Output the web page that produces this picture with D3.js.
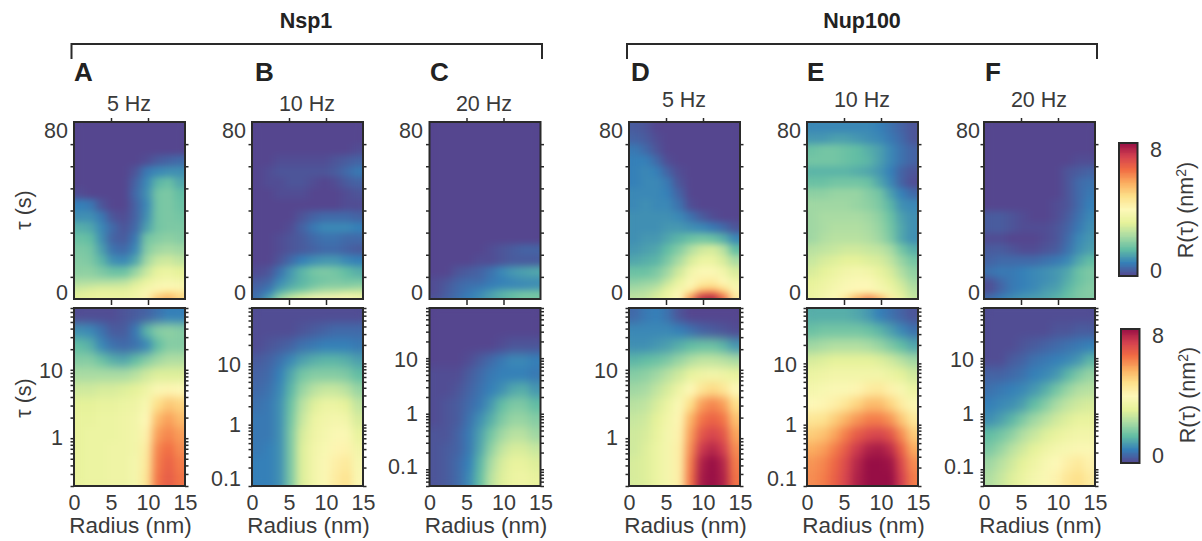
<!DOCTYPE html>
<html>
<head>
<meta charset="utf-8">
<script src="https://cdn.jsdelivr.net/npm/d3@7"></script>
<style>
  html, body { margin: 0; padding: 0; background: #fff; }
  text { font-family: "Liberation Sans", Arial, sans-serif; fill: #3a3a3a; }
</style>
</head>
<body>
<div id="chart"></div>
<script>
// radius bin centres (nm), same for every panel
var radii = [0.75, 2.25, 3.75, 5.25, 6.75, 8.25, 9.75, 11.25, 12.75, 14.25];
// tau bin edges for the linear panels (s)
var tauEdges = [80, 75, 70, 65, 60, 55, 50, 45, 40, 35, 30, 25, 20, 15, 10, 7, 4, 2, 0];
var tauMinor = [1, 2, 3, 4, 5, 6, 7, 8, 9];
var linTicks = [0, 10, 20, 30, 40, 50, 60, 70, 80];
var radiusTicks = [0, 5, 10, 15];
var colorStops = ["#55468f", "#3580b8", "#62bda4", "#a9dba3", "#e6f29a", "#fdf8b8", "#fde08a", "#fbae60", "#f16c43", "#d3404f", "#970e45"];

// R(tau) in nm2, rows go from long tau to short tau
var nsp1Hz5Lin = [
  [0,0,0,0,0,0,0,0,0,0],
  [0,0,0,0,0,0,0,0,0,0],
  [0,0,0,0,0,0,0,0,0,0],
  [0,0,0,0,0,0,0.1,0.3,0.4,0.5],
  [0,0,0,0,0,0.2,0.7,0.9,1.0,1.0],
  [0,0,0,0,0,0.4,0.9,1.5,1.7,1.3],
  [0.1,0,0,0,0,0.5,1.0,1.8,1.9,1.6],
  [0.8,0.7,0.2,0,0,0.4,0.9,1.8,1.9,1.7],
  [1.0,1.0,0.7,0.2,0.1,0.4,1.0,1.8,1.9,1.8],
  [1.4,1.3,0.9,0.5,0.2,0.5,1.2,1.8,1.9,1.9],
  [1.7,1.6,1.0,0.4,0.3,0.7,1.8,2.0,2.1,2.0],
  [1.9,1.8,1.2,0.6,0.5,0.9,2.0,2.3,2.4,2.3],
  [2.0,1.9,1.5,1.0,0.9,1.3,2.3,2.8,2.9,2.7],
  [2.1,2.1,1.9,1.7,1.7,2.2,2.8,3.3,3.4,3.2],
  [2.4,2.4,2.4,2.4,2.5,2.9,3.3,3.6,3.7,3.6],
  [2.8,2.9,3.0,3.0,3.0,3.3,3.6,3.9,4.0,3.9],
  [3.1,3.2,3.3,3.3,3.3,3.5,3.9,4.4,4.8,4.6],
  [3.2,3.3,3.4,3.4,3.4,3.6,4.2,5.3,5.6,5.0]
];
var nsp1Hz10Lin = [
  [0,0,0,0,0,0,0,0,0,0],
  [0,0,0,0,0,0,0,0,0,0],
  [0,0,0,0,0,0,0,0,0,0.1],
  [0,0,0.1,0.1,0.1,0.1,0.1,0.2,0.3,0.4],
  [0,0.1,0.2,0.2,0.2,0.2,0.2,0.3,0.5,0.7],
  [0,0.1,0.1,0.2,0.2,0.1,0,0.1,0.3,0.4],
  [0,0,0.1,0.1,0.1,0,0,0,0.1,0.2],
  [0,0,0,0,0,0,0,0,0.1,0.1],
  [0,0,0,0,0.2,0.4,0.5,0.5,0.5,0.4],
  [0,0,0,0.1,0.4,0.7,0.9,0.9,0.9,0.8],
  [0,0,0.1,0.2,0.3,0.5,0.6,0.6,0.5,0.5],
  [0,0,0.1,0.2,0.3,0.4,0.5,0.5,0.4,0.3],
  [0,0,0.2,0.5,0.8,1.0,1.1,1.1,0.9,0.8],
  [0.1,0.2,0.6,1.1,1.5,1.8,1.9,1.8,1.6,1.4],
  [0.3,0.4,0.9,1.2,1.5,1.7,1.8,1.9,1.8,1.8],
  [0.4,0.6,1.1,1.4,1.6,1.9,2.1,2.1,2.1,2.2],
  [0.5,0.8,1.5,1.9,2.2,2.5,2.7,2.8,3.0,3.0],
  [0.6,1.3,2.3,2.9,3.3,3.8,3.9,4.1,4.0,3.7]
];
var nsp1Hz20Lin = [
  [0,0,0,0,0,0,0,0,0,0],
  [0,0,0,0,0,0,0,0,0,0],
  [0,0,0,0,0,0,0,0,0,0],
  [0,0,0,0,0,0,0,0,0,0],
  [0,0,0,0,0,0,0,0,0,0],
  [0,0,0,0,0,0,0,0,0,0],
  [0,0,0,0,0,0,0,0,0,0],
  [0,0,0,0,0,0,0,0,0,0],
  [0,0,0,0,0,0,0,0,0,0],
  [0,0,0,0,0,0,0,0,0,0],
  [0,0,0,0,0,0,0,0,0,0],
  [0,0,0,0,0,0.1,0.2,0.3,0.4,0.4],
  [0,0,0,0,0.1,0.1,0.2,0.3,0.3,0.3],
  [0,0,0.2,0.3,0.4,0.6,0.9,1.1,1.2,1.3],
  [0.1,0.2,0.4,0.5,0.5,0.7,0.8,0.9,1.0,1.0],
  [0.1,0.3,0.5,0.6,0.7,0.8,0.9,0.9,0.9,1.0],
  [0.1,0.3,0.5,0.7,0.9,1.2,1.5,1.7,1.8,1.8],
  [0.2,0.4,0.6,0.8,1.0,1.2,1.4,1.6,1.8,1.8]
];
var nup100Hz5Lin = [
  [0.3,0.2,0,0,0,0,0,0,0,0],
  [0.4,0.3,0.1,0,0,0,0,0,0,0],
  [0.7,0.5,0.2,0,0,0,0,0,0,0],
  [0.8,0.8,0.5,0.1,0,0,0,0,0,0],
  [0.8,0.9,0.8,0.4,0.1,0,0,0,0,0],
  [0.8,0.9,0.9,0.7,0.2,0,0,0,0,0],
  [0.9,0.9,0.9,0.8,0.4,0,0,0,0,0],
  [0.9,1.0,0.9,0.9,0.6,0.1,0,0,0,0],
  [1.0,1.0,1.0,1.0,0.9,0.6,0.3,0.1,0,0],
  [1.0,1.0,1.0,1.1,1.1,1.0,0.9,0.7,0.5,0.2],
  [1.0,1.1,1.1,1.3,1.5,1.7,1.8,1.7,1.4,0.9],
  [1.1,1.2,1.3,1.6,2.0,2.5,2.9,3.0,2.6,1.6],
  [1.3,1.4,1.5,1.9,2.4,3.0,3.4,3.4,3.0,2.4],
  [1.7,1.7,1.9,2.3,2.9,3.6,3.9,3.9,3.6,3.0],
  [2.0,2.1,2.2,2.7,3.3,3.9,4.3,4.4,4.0,3.5],
  [2.3,2.4,2.6,3.1,3.6,4.1,4.8,4.9,4.5,3.8],
  [2.5,2.6,2.9,3.4,3.9,4.8,6.0,6.2,5.4,4.2],
  [2.7,2.8,3.1,3.5,4.0,6.0,7.6,7.8,6.6,4.5]
];
var nup100Hz10Lin = [
  [0.9,0.9,0.9,0.9,0.9,0.9,0.8,0.6,0.4,0.2],
  [1.1,1.1,1.2,1.2,1.1,1.0,0.9,0.7,0.5,0.2],
  [1.7,1.8,1.8,1.7,1.6,1.4,1.2,0.9,0.6,0.4],
  [1.8,1.8,1.8,1.7,1.6,1.5,1.2,0.9,0.6,0.4],
  [1.5,1.5,1.5,1.5,1.4,1.3,1.1,0.8,0.4,0.2],
  [1.7,1.7,1.8,1.8,1.8,1.7,1.3,0.9,0.4,0.1],
  [2.1,2.1,2.2,2.2,2.2,2.0,1.8,1.2,0.8,0.5],
  [2.3,2.3,2.3,2.3,2.2,2.1,1.9,1.5,1.0,0.9],
  [2.3,2.4,2.4,2.4,2.4,2.3,2.1,1.7,1.2,1.0],
  [2.3,2.4,2.5,2.5,2.5,2.4,2.2,1.8,1.3,1.0],
  [2.3,2.5,2.6,2.6,2.6,2.5,2.3,1.9,1.3,1.0],
  [2.6,2.7,2.8,2.9,2.9,2.8,2.7,2.4,1.8,1.4],
  [2.8,3.0,3.1,3.2,3.2,3.1,3.0,2.7,2.2,1.8],
  [3.0,3.2,3.4,3.6,3.7,3.6,3.3,3.0,2.5,2.1],
  [3.2,3.4,3.6,3.8,3.9,3.9,3.6,3.2,2.8,2.3],
  [3.3,3.5,3.7,3.9,4.0,4.0,3.7,3.4,3.0,2.5],
  [3.4,3.6,3.8,4.0,4.2,4.3,3.9,3.6,3.1,2.6],
  [3.4,3.7,4.0,4.6,5.6,6.2,5.6,4.4,3.4,2.8]
];
var nup100Hz20Lin = [
  [0,0,0,0,0,0,0,0,0,0],
  [0,0,0,0,0,0,0,0,0,0],
  [0,0,0,0,0,0,0,0,0,0],
  [0,0,0,0,0,0,0,0,0.1,0.1],
  [0,0,0,0,0,0,0,0.2,0.3,0.4],
  [0,0,0,0,0,0,0,0.2,0.5,0.6],
  [0,0,0,0,0,0,0,0.2,0.5,0.7],
  [0,0,0,0,0,0,0.1,0.2,0.5,0.8],
  [0.3,0.3,0.2,0.1,0,0,0.1,0.3,0.6,0.9],
  [0.3,0.3,0.2,0.1,0.1,0.1,0.2,0.4,0.7,1.0],
  [0.1,0.1,0,0,0,0.1,0.2,0.5,0.9,1.1],
  [0.3,0.3,0.2,0.1,0.1,0.2,0.3,0.6,1.0,1.2],
  [0.4,0.5,0.5,0.5,0.5,0.6,0.7,0.9,1.3,1.6],
  [0.6,0.7,0.7,0.8,0.9,1.0,1.1,1.3,1.7,1.9],
  [0.2,0.5,0.7,0.8,0.9,1.0,1.1,1.4,1.7,1.9],
  [0.1,0.4,0.7,0.8,0.9,1.1,1.2,1.5,1.8,2.0],
  [0.2,0.5,0.7,0.9,1.0,1.2,1.3,1.6,1.9,2.0],
  [0.6,0.8,1.0,1.1,1.2,1.3,1.5,1.7,1.9,2.0]
];

var nsp1Hz5Log = [
  [0.1,0.1,0.1,0.1,0.2,0.3,0.4,0.6,0.8,0.8],
  [1.0,0.9,0.6,0.3,0.3,0.7,1.5,2.0,2.1,2.0],
  [1.6,1.4,0.9,0.6,0.5,0.6,0.9,1.6,2.0,2.0],
  [2.0,2.0,1.7,1.4,1.3,1.6,2.0,2.3,2.5,2.5],
  [2.4,2.4,2.4,2.4,2.4,2.6,2.9,3.1,3.1,3.1],
  [2.9,2.9,3.0,3.0,3.1,3.2,3.5,3.9,4.1,4.0],
  [3.2,3.2,3.3,3.3,3.4,3.5,3.8,4.8,5.2,5.0],
  [3.3,3.3,3.4,3.4,3.5,3.6,4.0,5.4,5.8,5.4],
  [3.3,3.4,3.4,3.4,3.5,3.6,4.2,5.8,6.1,5.8],
  [3.3,3.4,3.4,3.5,3.5,3.6,4.4,6.1,6.4,6.0],
  [3.3,3.4,3.4,3.5,3.5,3.7,4.5,6.2,6.6,6.2],
  [3.3,3.4,3.4,3.5,3.5,3.7,4.6,6.3,6.7,6.3]
];
var nsp1Hz10Log = [
  [0.1,0.1,0.1,0.1,0.1,0.1,0.1,0.1,0.1,0.1],
  [0.1,0.1,0.1,0.1,0.2,0.3,0.4,0.5,0.5,0.5],
  [0.1,0.2,0.3,0.4,0.6,0.7,0.8,0.8,0.8,0.7],
  [0.3,0.4,0.6,0.9,1.2,1.4,1.5,1.5,1.4,1.2],
  [0.4,0.5,0.8,1.3,1.8,2.0,2.0,2.0,1.9,1.6],
  [0.5,0.6,0.9,1.5,2.2,2.6,2.8,2.8,2.6,2.2],
  [0.6,0.7,1.0,1.7,2.6,3.1,3.4,3.4,3.2,2.7],
  [0.7,0.7,1.0,1.8,2.8,3.4,3.6,3.7,3.6,3.0],
  [0.7,0.7,1.0,1.9,3.0,3.5,3.7,3.9,3.9,3.3],
  [0.7,0.8,1.0,1.9,3.1,3.6,3.8,4.1,4.2,3.6],
  [0.8,0.8,1.0,1.9,3.1,3.6,3.9,4.3,4.5,3.8],
  [0.8,0.8,1.0,1.9,3.1,3.6,3.9,4.4,4.7,3.9]
];
var nsp1Hz20Log = [
  [0,0,0,0,0,0,0,0,0,0],
  [0,0,0,0,0,0,0,0,0,0],
  [0,0,0,0,0,0,0.1,0.2,0.2,0.2],
  [0,0,0,0.1,0.3,0.5,0.7,0.9,0.9,0.8],
  [0.1,0.1,0.1,0.3,0.5,0.7,0.8,0.8,0.8,0.7],
  [0.1,0.1,0.2,0.4,0.6,0.8,1.0,1.3,1.4,1.1],
  [0.1,0.2,0.3,0.5,0.7,1.1,1.6,1.9,1.9,1.6],
  [0.1,0.2,0.3,0.6,1.0,1.4,1.9,2.2,2.2,2.0],
  [0.2,0.2,0.4,0.7,1.2,1.8,2.3,2.6,2.6,2.3],
  [0.2,0.3,0.4,0.7,1.3,2.1,2.7,3.0,3.0,2.8],
  [0.2,0.3,0.5,0.8,1.5,2.4,3.0,3.3,3.3,3.1],
  [0.2,0.3,0.5,0.9,1.6,2.6,3.1,3.4,3.5,3.3]
];
var nup100Hz5Log = [
  [0.5,0.7,0.8,0.6,0.2,0,0,0,0,0],
  [0.9,0.9,0.9,0.9,0.8,0.6,0.4,0.3,0.2,0.1],
  [1.0,1.0,1.1,1.2,1.4,1.6,1.7,1.7,1.5,1.1],
  [1.5,1.6,1.7,1.9,2.2,2.5,2.7,2.7,2.6,2.4],
  [2.0,2.1,2.3,2.6,2.9,3.3,3.5,3.6,3.5,3.3],
  [2.3,2.4,2.7,3.0,3.5,4.0,4.6,4.9,4.6,4.0],
  [2.6,2.7,3.0,3.4,3.9,4.8,5.8,6.1,5.8,4.8],
  [2.8,2.9,3.2,3.6,4.1,5.5,6.3,6.6,6.3,5.3],
  [2.9,3.0,3.3,3.7,4.2,5.8,6.8,7.1,6.8,5.7],
  [2.9,3.1,3.4,3.7,4.3,6.0,7.3,7.6,7.2,6.0],
  [3.0,3.1,3.4,3.7,4.3,6.2,7.7,8.0,7.6,6.2],
  [3.0,3.1,3.4,3.7,4.3,6.3,7.8,8.0,7.7,6.3]
];
var nup100Hz10Log = [
  [1.4,1.4,1.4,1.4,1.3,1.1,0.8,0.6,0.4,0.2],
  [1.7,1.8,1.8,1.8,1.8,1.7,1.5,1.2,0.9,0.6],
  [2.3,2.4,2.5,2.5,2.5,2.4,2.2,1.9,1.6,1.3],
  [3.0,3.1,3.2,3.2,3.2,3.2,3.1,2.9,2.6,2.3],
  [3.4,3.5,3.6,3.6,3.6,3.6,3.6,3.4,3.2,2.9],
  [3.7,3.8,3.9,3.9,4.1,4.4,4.5,4.2,3.8,3.4],
  [4.0,4.1,4.3,4.6,5.0,5.4,5.4,5.0,4.4,3.9],
  [4.6,4.7,5.1,5.5,5.9,6.2,6.2,5.9,5.2,4.5],
  [5.1,5.3,5.7,6.2,6.7,7.0,7.1,6.8,6.0,5.1],
  [5.6,5.8,6.2,6.7,7.3,7.7,7.8,7.5,6.6,5.6],
  [5.9,6.1,6.5,7.0,7.6,8.0,8.0,7.9,7.0,6.0],
  [6.0,6.2,6.6,7.1,7.7,8.0,8.0,8.0,7.2,6.2]
];
var nup100Hz20Log = [
  [0.1,0.1,0.1,0.1,0.1,0.1,0.1,0.1,0.1,0.1],
  [0.1,0.1,0.1,0.1,0.1,0.1,0.2,0.2,0.3,0.3],
  [0.1,0.1,0.1,0.2,0.3,0.4,0.5,0.6,0.7,0.8],
  [0.1,0.1,0.3,0.4,0.6,0.7,0.8,0.9,1.1,1.5],
  [0.4,0.4,0.5,0.6,0.8,0.9,1.1,1.5,1.9,2.2],
  [0.6,0.7,0.8,0.9,1.1,1.4,1.8,2.2,2.5,2.6],
  [0.8,0.9,1.0,1.2,1.6,2.0,2.4,2.7,2.9,3.0],
  [1.0,1.2,1.5,1.9,2.3,2.6,2.9,3.1,3.3,3.3],
  [1.6,1.8,2.1,2.5,2.8,3.1,3.3,3.5,3.6,3.6],
  [1.9,2.2,2.6,2.9,3.2,3.5,3.7,3.8,3.9,3.9],
  [2.3,2.6,2.9,3.2,3.5,3.8,4.0,4.3,4.5,4.2],
  [2.5,2.8,3.1,3.4,3.7,3.9,4.2,4.6,4.8,4.4]
];

var W = 1202, H = 541;
var topY = [122, 299], botY = [308, 486], panelW = 111;

var panels = [
  {letter: "A", hz: "5 Hz",  x0: 74,    lx: 74,  hzx: 129,  hzy: 111, lin: nsp1Hz5Lin,    log: nsp1Hz5Log,    tauMin: 0.2,  r80: 68,  r10: 63},
  {letter: "B", hz: "10 Hz", x0: 252,   lx: 255, hzx: 307,  hzy: 111, lin: nsp1Hz10Lin,   log: nsp1Hz10Log,   tauMin: 0.1,  r80: 246, r10: 241},
  {letter: "C", hz: "20 Hz", x0: 429.5, lx: 430, hzx: 484,  hzy: 111, lin: nsp1Hz20Lin,   log: nsp1Hz20Log,   tauMin: 0.05, r80: 423, r10: 418},
  {letter: "D", hz: "5 Hz",  x0: 629,   lx: 631, hzx: 684,  hzy: 107, lin: nup100Hz5Lin,  log: nup100Hz5Log,  tauMin: 0.2,  r80: 623, r10: 618},
  {letter: "E", hz: "10 Hz", x0: 807,   lx: 807, hzx: 862,  hzy: 107, lin: nup100Hz10Lin, log: nup100Hz10Log, tauMin: 0.1,  r80: 801, r10: 797},
  {letter: "F", hz: "20 Hz", x0: 984,   lx: 985, hzx: 1039, hzy: 107, lin: nup100Hz20Lin, log: nup100Hz20Log, tauMin: 0.05, r80: 980, r10: 974}
];

var color = d3.scaleLinear()
  .domain(colorStops.map(function(d, i){ return i * 0.8 }))
  .range(colorStops)
  .interpolate(d3.interpolateRgb)
  .clamp(true);

var svg = d3.select("#chart").append("svg")
  .attr("width", W)
  .attr("height", H)
  .style("display", "block");

var defs = svg.append("defs");

function addSmooth(id, sx, sy){
  var f = defs.append("filter")
    .attr("id", id)
    .attr("x", "-10%").attr("y", "-10%")
    .attr("width", "120%").attr("height", "120%")
    .attr("color-interpolation-filters", "sRGB");
  f.append("feGaussianBlur").attr("stdDeviation", sx + " " + sy);
  // the blur fades the edge, push alpha back so the colour stays solid
  f.append("feComponentTransfer").append("feFuncA")
    .attr("type", "linear").attr("slope", 40);
}
addSmooth("smoothLin", 4, 3);
addSmooth("smoothLog", 4, 5);

function heat(g, id, clip, x, rows, y0, yh){
  defs.append("clipPath").attr("id", id)
    .append("rect")
    .attr("x", x.range()[0]).attr("y", clip[0])
    .attr("width", x.range()[1] - x.range()[0])
    .attr("height", clip[1] - clip[0]);
  var dr = radii[1] - radii[0];
  var cells = [];
  rows.forEach(function(row, i){
    row.forEach(function(v, j){
      cells.push({i: i, j: j, v: v});
    });
  });
  g.append("g")
    .attr("clip-path", "url(#" + id + ")")
    .append("g")
    .attr("filter", g.attr("data-smooth"))
    .selectAll("rect")
    .data(cells)
    .enter().append("rect")
    .attr("x", function(d){ return x(radii[d.j] - dr / 2) })
    .attr("width", x(dr) - x(0) + 0.5)
    .attr("y", function(d){ return y0(d.i) })
    .attr("height", function(d){ return yh(d.i) + 0.5 })
    .attr("fill", function(d){ return color(d.v) })
    .attr("shape-rendering", "crispEdges");
}

function frame(g, x, y){
  g.append("rect")
    .attr("x", x).attr("y", y[0])
    .attr("width", panelW).attr("height", y[1] - y[0])
    .attr("fill", "none")
    .attr("stroke", "#2a2a2a")
    .attr("stroke-width", 2);
}

function styleAxis(a){
  a.select(".domain").remove();
  a.selectAll(".tick line").attr("stroke", "#2a2a2a").attr("stroke-width", 1.5);
  a.selectAll("text").style("font-size", "21.5px");
}

function logTicks(tauMin){
  var out = [];
  [0.01, 0.1, 1, 10].forEach(function(k){
    tauMinor.forEach(function(m){
      var t = +(k * m).toFixed(3);
      if (t >= tauMin && t <= 80) out.push(t);
    });
  });
  return out;
}

panels.forEach(function(p){
  var g = svg.append("g");
  var x = d3.scaleLinear().domain([0, 15]).range([p.x0, p.x0 + panelW]);

  // linear tau panel
  var yLin = d3.scaleLinear().domain([0, 80]).range([topY[1], topY[0]]);
  var gl = g.append("g").attr("data-smooth", "url(#smoothLin)");
  heat(gl, "clipLin" + p.letter, topY, x, p.lin,
    function(i){ return yLin(tauEdges[i]) },
    function(i){ return yLin(tauEdges[i + 1]) - yLin(tauEdges[i]) });
  frame(g, p.x0, topY);

  // log tau panel
  var yLog = d3.scaleLog().domain([p.tauMin, 80]).range([botY[1], botY[0]]);
  var band = d3.scaleBand().domain(d3.range(p.log.length)).range(botY);
  var gb = g.append("g").attr("data-smooth", "url(#smoothLog)");
  heat(gb, "clipLog" + p.letter, botY, x, p.log,
    function(i){ return band(i) },
    function(){ return band.bandwidth() });
  frame(g, p.x0, botY);

  // x ticks round the linear panel, labels under the log panel
  g.append("g").attr("transform", "translate(0," + topY[0] + ")")
    .call(d3.axisTop(x).tickValues([5, 10]).tickSize(4).tickFormat(""))
    .call(styleAxis);
  g.append("g").attr("transform", "translate(0," + topY[1] + ")")
    .call(d3.axisBottom(x).tickValues([5, 10]).tickSize(6).tickFormat(""))
    .call(styleAxis);
  g.append("g").attr("transform", "translate(0," + botY[1] + ")")
    .call(d3.axisBottom(x).tickValues(radiusTicks).tickSize(0).tickPadding(9))
    .call(styleAxis);

  // y ticks on linear panel
  g.append("g").attr("transform", "translate(" + p.x0 + ",0)")
    .call(d3.axisLeft(yLin).tickValues(linTicks.slice(1, -1)).tickSize(3.5).tickFormat(""))
    .call(styleAxis);
  g.append("g").attr("transform", "translate(" + (p.x0 + panelW) + ",0)")
    .call(d3.axisRight(yLin).tickValues(linTicks.slice(1, -1)).tickSize(3.5).tickFormat(""))
    .call(styleAxis);
  g.append("text").attr("x", p.r80).attr("y", yLin(80) + 16)
    .attr("text-anchor", "end").style("font-size", "21.5px").text("80");
  g.append("text").attr("x", p.r80).attr("y", yLin(0) + 1)
    .attr("text-anchor", "end").style("font-size", "21.5px").text("0");

  // y ticks on log panel
  var lt = logTicks(p.tauMin);
  [[d3.axisLeft, p.x0], [d3.axisRight, p.x0 + panelW]].forEach(function(s){
    g.append("g").attr("transform", "translate(" + s[1] + ",0)")
      .call(s[0](yLog).tickValues(lt).tickSize(3.5).tickFormat(""))
      .call(styleAxis);
  });
  [10, 1, 0.1].forEach(function(t){
    if (t < p.tauMin) return;
    var off = t == 0.1 ? (p.tauMin == 0.1 ? 0 : 5) : t == 1 ? 7 : 8.5;
    g.append("text").attr("x", p.r10).attr("y", yLog(t) + off)
      .attr("text-anchor", "end").style("font-size", "21.5px").text(t);
  });

  // names
  g.append("text").attr("x", p.lx).attr("y", 81)
    .style("font-size", "26px").style("font-weight", "bold").style("fill", "#222").text(p.letter);
  g.append("text").attr("x", p.hzx).attr("y", p.hzy)
    .attr("text-anchor", "middle").style("font-size", "21.5px").text(p.hz);
  g.append("text").attr("x", p.x0 + panelW / 2 + 1).attr("y", 533)
    .attr("text-anchor", "middle").style("font-size", "22.5px").text("Radius (nm)");
});

// group brackets
[["Nsp1", 71.5, 542, 306], ["Nup100", 627, 1097, 862]].forEach(function(b){
  svg.append("path")
    .attr("d", d3.line()([[b[1], 59], [b[1], 44], [b[2], 44], [b[2], 59]]))
    .attr("fill", "none").attr("stroke", "#2a2a2a").attr("stroke-width", 2);
  svg.append("text").attr("x", b[3]).attr("y", 28)
    .attr("text-anchor", "middle").style("font-size", "21.5px").style("font-weight", "bold").style("fill", "#222").text(b[0]);
});

// tau axis names
[210, 398].forEach(function(cy){
  svg.append("text")
    .attr("transform", "translate(31," + cy + ") rotate(-90)")
    .attr("text-anchor", "middle").style("font-size", "21.5px").text("\u03c4 (s)");
});

// colour bars
[[1119, 143, 276, 1150, 157, 278, 1193, 210], [1121, 329, 463, 1152, 343, 463, 1195, 395]].forEach(function(c){
  var yb = d3.scaleLinear().domain([0, 8]).range([c[2], c[1]]);
  var steps = d3.range(0, 8, 0.05);
  var gc = svg.append("g");
  gc.selectAll("rect").data(steps).enter().append("rect")
    .attr("x", c[0]).attr("width", 18.5)
    .attr("y", function(d){ return yb(d + 0.05) })
    .attr("height", function(d){ return yb(d) - yb(d + 0.05) + 0.5 })
    .attr("fill", function(d){ return color(d) })
    .attr("shape-rendering", "crispEdges");
  gc.append("rect").attr("x", c[0]).attr("y", c[1]).attr("width", 18.5).attr("height", c[2] - c[1])
    .attr("fill", "none").attr("stroke", "#2a2a2a").attr("stroke-width", 2);
  gc.append("text").attr("x", c[3]).attr("y", c[4]).style("font-size", "21.5px").text("8");
  gc.append("text").attr("x", c[3]).attr("y", c[5]).style("font-size", "21.5px").text("0");
  var t = gc.append("text")
    .attr("transform", "translate(" + c[6] + "," + c[7] + ") rotate(-90)")
    .attr("text-anchor", "middle").style("font-size", "21.5px");
  t.append("tspan").text("R(\u03c4) (nm");
  t.append("tspan").attr("dy", -7).style("font-size", "14px").text("2");
  t.append("tspan").attr("dy", 7).text(")");
});
</script>
</body>
</html>
